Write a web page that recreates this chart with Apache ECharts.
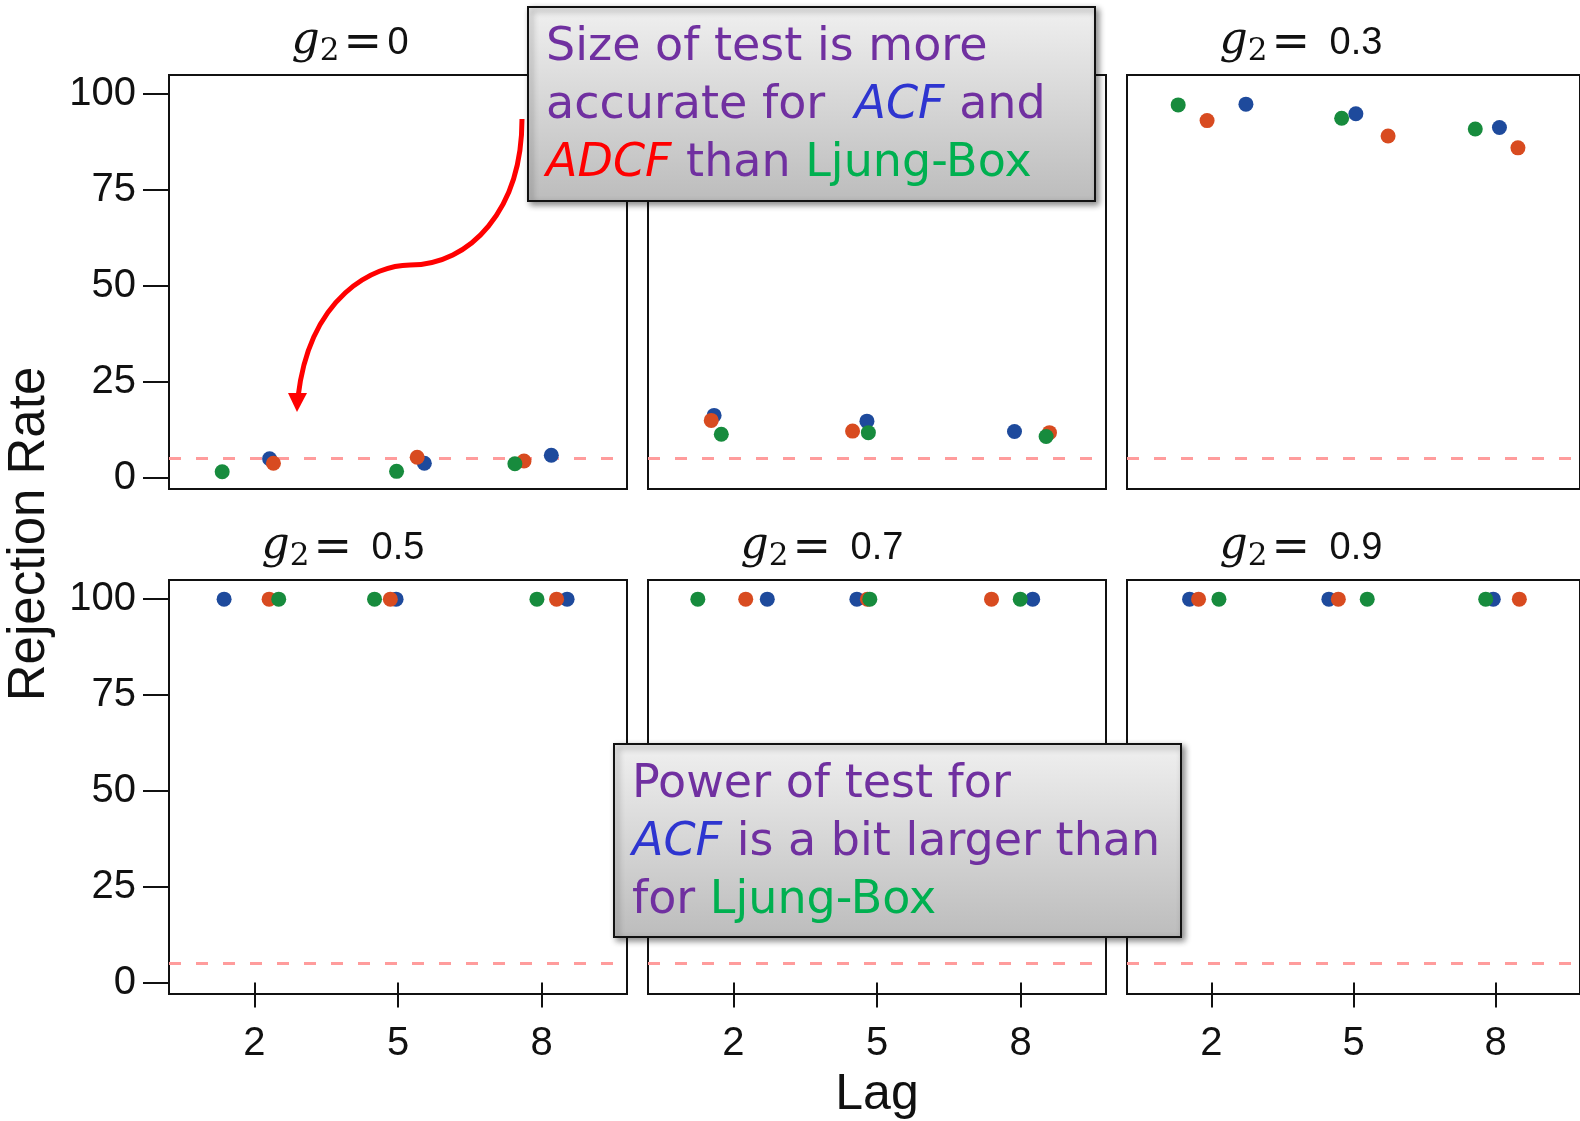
<!DOCTYPE html>
<html>
<head>
<meta charset="utf-8">
<script src="https://cdn.jsdelivr.net/npm/echarts@6/dist/echarts.min.js"></script>
<style>
html,body{margin:0;padding:0;background:#fff;}
#chart{width:1580px;height:1121px;}
</style>
</head>
<body>
<div id="chart"></div>
<script>
// ---------- DATA ----------
const panelG2 = ['0', '0.1', '0.3', '0.5', '0.7', '0.9'];
const lagTicks = [2, 5, 8];
const rateTicks = [0, 25, 50, 75, 100];
const nominalSize = 5;

// jittered lag positions and rejection rates per panel (ACF)
const acfLag  = [[2.32,5.55,8.20],[1.60,4.79,7.87],[2.73,5.05,8.08],[1.37,4.96,8.53],[2.71,4.58,8.25],[1.54,4.48,7.95]];
const acfRate = [[4.9,3.7,5.8],[16.2,14.7,12.0],[97.4,94.9,91.3],[100,100,100],[100,100,100],[100,100,100]];
// ADCF
const adcfLag  = [[2.40,5.40,7.63],[1.54,4.49,8.60],[1.91,5.73,8.47],[2.31,4.84,8.31],[2.26,4.80,7.39],[1.73,4.68,8.50]];
const adcfRate = [[3.7,5.3,4.3],[14.9,12.1,11.7],[93.1,89.1,86.0],[100,100,100],[100,100,100],[100,100,100]];
// Ljung-Box
const lbLag  = [[1.33,4.97,7.44],[1.75,4.82,8.53],[1.30,4.75,7.57],[2.51,4.51,7.90],[1.26,4.85,7.99],[2.16,5.29,7.79]];
const lbRate = [[1.5,1.6,3.6],[11.3,11.7,10.7],[97.2,93.7,90.9],[100,100,100],[100,100,100],[100,100,100]];

// ---------- LAYOUT ----------
const colLeft = [169, 648, 1127];
const rowTop = [75, 580];
const panelW = 458, panelH = 414;
const colors = { acf: '#1e4a9c', adcf: '#d84b20', lb: '#178b3d' };
const tickFont = 'Liberation Sans, Arial, sans-serif';

const grids = [], xAxes = [], yAxes = [], series = [], graphics = [];

for (let i = 0; i < 6; i++) {
  const r = Math.floor(i / 3), c = i % 3;
  grids.push({
    left: colLeft[c], top: rowTop[r], width: panelW, height: panelH,
    show: true, borderColor: '#111', borderWidth: 2, backgroundColor: '#fff'
  });
  xAxes.push({
    gridIndex: i, type: 'value', min: 0.22, max: 9.78,
    splitLine: { show: false },
    axisLine: { show: false },
    axisTick: { show: r === 1, customValues: lagTicks, length: 25, lineStyle: { color: '#111', width: 2 } },
    axisLabel: { show: r === 1, customValues: lagTicks, margin: 30, fontSize: 40, color: '#111', fontFamily: tickFont }
  });
  yAxes.push({
    gridIndex: i, type: 'value', min: -3, max: 105,
    splitLine: { show: false },
    axisLine: { show: false },
    axisTick: { show: c === 0, customValues: rateTicks, length: 26, lineStyle: { color: '#111', width: 2 } },
    axisLabel: { show: c === 0, customValues: rateTicks, margin: 33, fontSize: 40, color: '#111', fontFamily: tickFont }
  });
  const mk = (name, lag, rate, col, withLine) => {
    const s = {
      name, type: 'scatter', xAxisIndex: i, yAxisIndex: i,
      symbolSize: 15, itemStyle: { color: col, opacity: 1 },
      data: lag[i].map((x, k) => [x, rate[i][k]]),
      z: 3
    };
    if (withLine) {
      s.markLine = {
        silent: true, symbol: 'none', label: { show: false },
        lineStyle: { color: '#ff9c9c', type: [12, 15], width: 3 },
        data: [{ yAxis: nominalSize }],
        z: 1
      };
    }
    return s;
  };
  series.push(mk('ACF', acfLag, acfRate, colors.acf, true));
  series.push(mk('ADCF', adcfLag, adcfRate, colors.adcf, false));
  series.push(mk('Ljung-Box', lbLag, lbRate, colors.lb, false));

  // panel title: value centered, "g2=" to the left
  const cx = colLeft[c] + panelW / 2;
  const ty = rowTop[r] - 31;
  const val = panelG2[i];
  graphics.push({
    type: 'text', x: cx, y: ty, z: 5,
    style: { text: val, fontSize: 38, fontFamily: tickFont, fill: '#111', align: 'center', verticalAlign: 'middle' }
  });
  const eqRight = cx - (val.length === 1 ? 16 : 46);
  graphics.push({
    type: 'text', x: eqRight, y: ty, z: 5,
    style: {
      text: '{g|g}{s|2}{e|=}',
      align: 'right', verticalAlign: 'middle',
      rich: {
        g: { fontSize: 44, fontStyle: 'italic', fontFamily: 'DejaVu Serif, serif', fill: '#111', padding: [0, 0, 4, 0] },
        s: { fontSize: 31, fontFamily: 'DejaVu Serif, serif', fill: '#111', padding: [16, 4, 0, 0] },
        e: { fontSize: 46, fontFamily: 'DejaVu Sans, sans-serif', fill: '#111' }
      }
    }
  });
}

// axis titles
graphics.push({
  type: 'text', x: 30, y: 534, rotation: Math.PI / 2, z: 5,
  style: { text: 'Rejection Rate', fontSize: 51, fontFamily: tickFont, fill: '#111', align: 'center', verticalAlign: 'middle' }
});
graphics.push({
  type: 'text', x: 877, y: 1095, z: 5,
  style: { text: 'Lag', fontSize: 50, fontFamily: tickFont, fill: '#111', align: 'center', verticalAlign: 'middle' }
});

// annotation styles
const annFont = '"Comic Sans MS", "DejaVu Sans", sans-serif';
const annRich = {
  p: { fill: '#7030a0', fontSize: 46, fontFamily: annFont, lineHeight: 58 },
  b: { fill: '#2e35d0', fontSize: 46, fontFamily: annFont, fontStyle: 'italic', lineHeight: 58 },
  r: { fill: '#ff0000', fontSize: 46, fontFamily: annFont, fontStyle: 'italic', lineHeight: 58 },
  g: { fill: '#00b050', fontSize: 46, fontFamily: annFont, lineHeight: 58 }
};
const boxFill = { type: 'linear', x: 0, y: 0, x2: 0, y2: 1,
  colorStops: [{ offset: 0, color: '#f0f0f0' }, { offset: 1, color: '#bcbcbc' }] };

function annBox(x, y, w, h, text) {
  graphics.push({
    type: 'rect', z: 50, shape: { x, y, width: w, height: h },
    style: { fill: boxFill, stroke: '#111', lineWidth: 2,
      shadowBlur: 6, shadowOffsetX: 3, shadowOffsetY: 3, shadowColor: 'rgba(0,0,0,0.45)' }
  });
  graphics.push({
    type: 'text', z: 51, x: x + 18, y: y + 12,
    style: { text, rich: annRich, align: 'left', verticalAlign: 'top' }
  });
}
annBox(528, 7, 567, 194,
  '{p|Size of test is more}\n{p|accurate for  }{b|ACF}{p| and}\n{r|ADCF}{p| than }{g|Ljung-Box}');
annBox(614, 744, 567, 193,
  '{p|Power of test for}\n{b|ACF}{p| is a bit larger than}\n{p|for }{g|Ljung-Box}');

// red curved arrow
graphics.push({
  type: 'bezierCurve', z: 40,
  shape: { x1: 522, y1: 119, x2: 410, y2: 265, cpx1: 522, cpy1: 210, cpx2: 470, cpy2: 265 },
  style: { stroke: '#ff0000', lineWidth: 5, fill: null }
});
graphics.push({
  type: 'bezierCurve', z: 40,
  shape: { x1: 410, y1: 265, x2: 298, y2: 397, cpx1: 375, cpy1: 265, cpx2: 310, cpy2: 295 },
  style: { stroke: '#ff0000', lineWidth: 5, fill: null }
});
graphics.push({
  type: 'polygon', z: 40,
  shape: { points: [[288, 393], [307, 393], [297, 412]] },
  style: { fill: '#ff0000' }
});

const chart = echarts.init(document.getElementById('chart'), null, { renderer: 'canvas' });
chart.setOption({
  animation: false,
  backgroundColor: '#fff',
  grid: grids,
  xAxis: xAxes,
  yAxis: yAxes,
  series,
  graphic: { elements: graphics }
});
</script>
</body>
</html>
